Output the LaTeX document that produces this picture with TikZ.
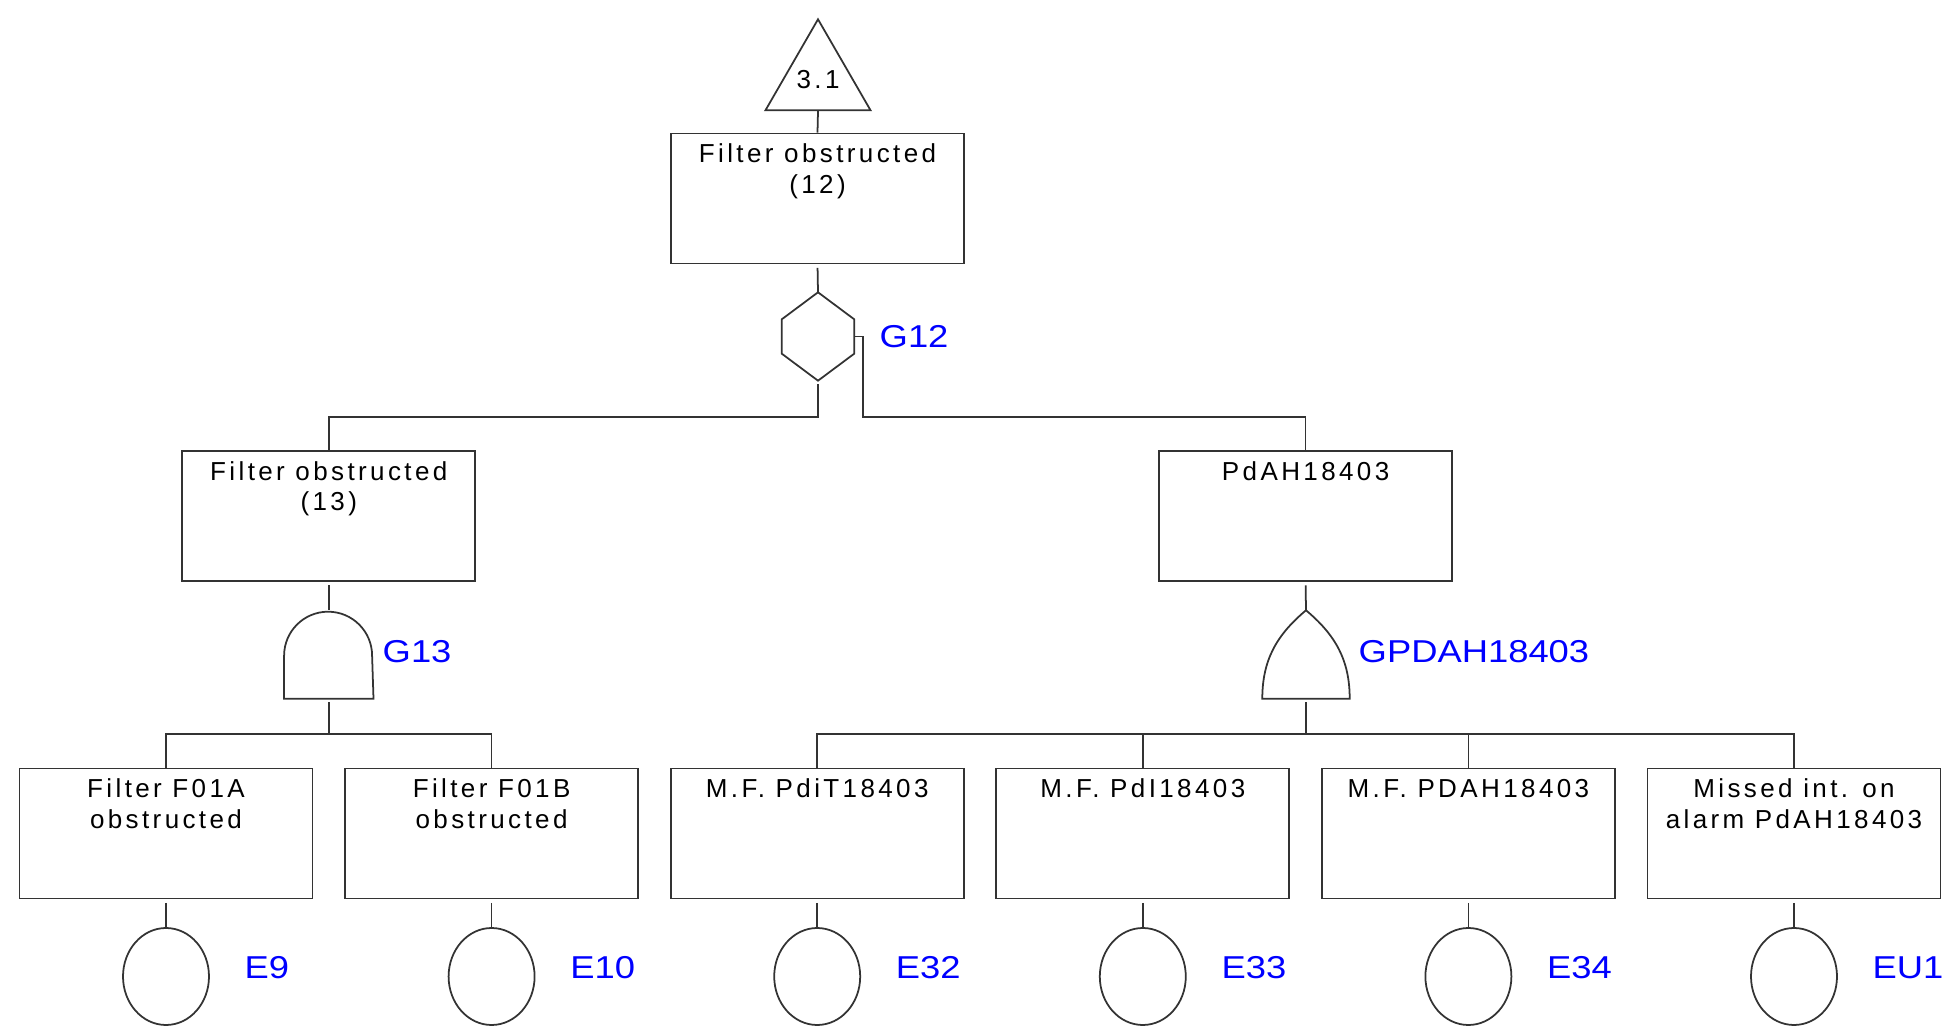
\documentclass[tikz,border=0pt]{standalone}
\usepackage{fontspec}
\usetikzlibrary{shapes.geometric,positioning}
\newfontfamily\boxfont[LetterSpace=13]{Liberation Sans}
\newfontfamily\tagfont[FakeStretch=1.15]{Liberation Sans}
\definecolor{tagblue}{RGB}{0,0,255}
\tikzset{
  evbox/.style={draw=black!80,line width=0.5pt,minimum width=2.93cm,minimum height=1.30cm,inner sep=0},
  boxtext/.style={anchor=north,align=center,inner sep=3pt,font=\boxfont\fontsize{7.4}{8.7}\selectfont},
  gate/.style={minimum width=0.88cm,minimum height=0.87cm,inner sep=0},
  tag/.style={anchor=west,inner sep=0,text=tagblue,font=\tagfont\fontsize{9}{11}\selectfont},
  basic/.style={draw=black!80,line width=0.5pt,ellipse,minimum width=0.86cm,minimum height=0.97cm,inner sep=0},
  link/.style={draw=black!80,line width=0.5pt},
  drop/.style={link,shorten <=0.035cm}
}
\newcommand{\hexgate}[1]{%
  \draw[link] (#1.north) -- ([yshift=-0.27cm]#1.north east) -- ([yshift=0.27cm]#1.south east)
    -- (#1.south) -- ([yshift=0.27cm]#1.south west) -- ([yshift=-0.27cm]#1.north west) -- cycle;}
\newcommand{\andgate}[1]{%
  \draw[link] (#1.south west) -- ([yshift=0.43cm]#1.south west) arc[start angle=180,end angle=0,radius=0.44cm]
    -- (#1.south east) -- cycle;}
\newcommand{\orgate}[1]{%
  \draw[link] (#1.south west) to[out=90,in=220] (#1.north) to[out=-40,in=90] (#1.south east) -- cycle;}

\begin{document}
\begin{tikzpicture}[x=1cm,y=1cm]
\useasboundingbox (0,0) rectangle (19.42,10.30);
% top event
\node[draw=black!80,line width=0.5pt,regular polygon,regular polygon sides=3,minimum size=1.10cm,inner sep=0,
  font=\boxfont\fontsize{7.4}{8.7}\selectfont] (t31) at (8.18,9.50) {3.1};
\node[evbox,label={[boxtext]north:Filter obstructed\\(12)}] (top) at (8.175,8.315) {};
\node[gate,minimum width=0.71cm] (g12) at (8.18,6.935) {};
\hexgate{g12}
\node[tag] (g12l) at (8.79,6.935) {G12};
% second level
\node[evbox,label={[boxtext]north:Filter obstructed\\(13)}] (f13) at (3.288,5.14) {};
\node[evbox,label={[boxtext]north:PdAH18403}] (pdah) at (13.056,5.14) {};
\node[gate] (g13) at (3.288,3.755) {};
\andgate{g13}
\node[tag] (g13l) at (3.82,3.78) {G13};
\node[gate,minimum width=0.86cm] (gpdah) at (13.06,3.755) {};
\orgate{gpdah}
\node[tag] (gpdahl) at (13.58,3.78) {GPDAH18403};
% basic events
\foreach \n/\x/\txt/\ev in {1/1.66/{Filter F01A\\obstructed}/E9,2/4.916/{Filter F01B\\obstructed}/E10,
  3/8.172/{M.F. PdiT18403}/E32,4/11.428/{M.F. PdI18403}/E33,5/14.684/{M.F. PDAH18403}/E34,
  6/17.94/{Missed int. on\\alarm PdAH18403}/EU1}{
  \node[evbox,label={[boxtext]north:\txt}] (b\n) at (\x,1.965) {};
  \node[basic] (e\n) at (\x,0.535) {};
  \node[tag] (e\n l) at (\x+0.78,0.62) {\ev};
  \draw[drop] (b\n) -- (e\n);
}
% connectors
\draw[link] (t31.south) -- (top.north);
\draw[drop] (top.south) -- (g12.north);
\coordinate (j12) at (8.18,6.13);
\coordinate (k12) at (8.63,6.13);
\draw[drop] (g12.south) -- (j12) -| (f13.north);
\draw[link] (g12.east) -| (k12) -| (pdah.north);
\draw[drop] (f13.south) -- (g13.north);
\draw[drop] (pdah.south) -- (gpdah.north);
\coordinate (j13) at (3.288,2.96);
\draw[drop] (g13.south) -- (j13);
\draw[link] (b1.north) |- (j13) -| (b2.north);
\coordinate (jpdah) at (13.06,2.96);
\draw[drop] (gpdah.south) -- (jpdah);
\draw[link] (b3.north) |- (jpdah) -| (b6.north);
\draw[link] (b4.north) |- (jpdah);
\draw[link] (b5.north) |- (jpdah);
\end{tikzpicture}
\end{document}
